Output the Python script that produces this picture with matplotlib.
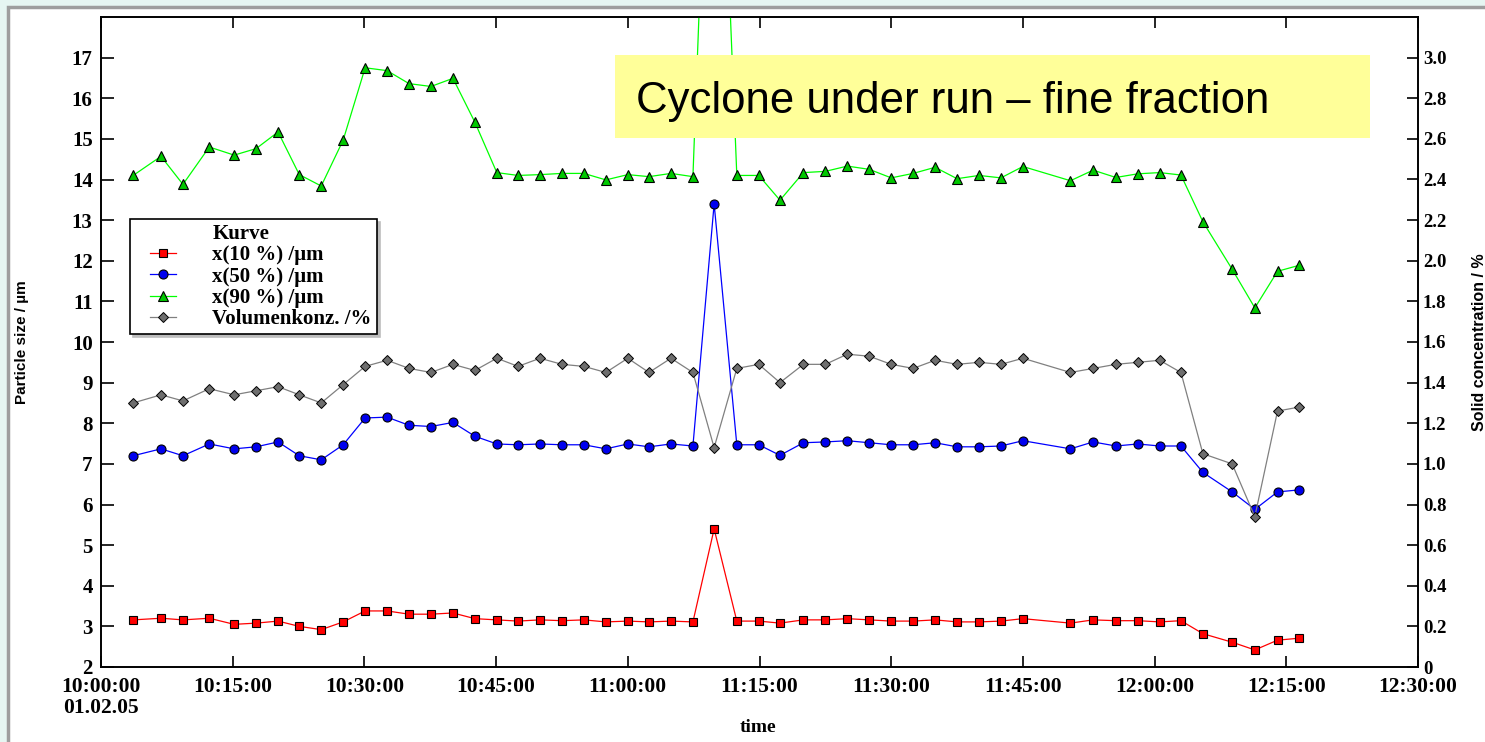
import datetime as dt
import matplotlib
matplotlib.use("Agg")
import matplotlib.pyplot as plt
import matplotlib.dates as mdates
import matplotlib.transforms as mtrans
from matplotlib.lines import Line2D
from matplotlib.patches import Rectangle
from matplotlib.ticker import FixedLocator, FuncFormatter
from matplotlib.legend_handler import HandlerLine2D
from matplotlib import font_manager

# ---------------- data ----------------
times = ["10:03:40", "10:06:50", "10:09:20", "10:12:20", "10:15:10", "10:17:40", "10:20:10",
         "10:22:35", "10:25:05", "10:27:35", "10:30:05", "10:32:35", "10:35:05", "10:37:35",
         "10:40:05", "10:42:35", "10:45:05", "10:47:30", "10:50:00", "10:52:30", "10:55:00",
         "10:57:30", "11:00:00", "11:02:25", "11:04:55", "11:07:25", "11:09:50", "11:12:25",
         "11:14:55", "11:17:20", "11:20:00", "11:22:30", "11:25:00", "11:27:30", "11:30:00",
         "11:32:30", "11:35:00", "11:37:30", "11:40:00", "11:42:30", "11:45:00", "11:50:25",
         "11:53:00", "11:55:35", "11:58:05", "12:00:35", "12:03:00", "12:05:30", "12:08:50",
         "12:11:25", "12:14:00", "12:16:30"]

x10 = [3.16, 3.20, 3.16, 3.20, 3.05, 3.08, 3.13, 3.00, 2.92, 3.11, 3.38, 3.38, 3.30,
       3.30, 3.33, 3.19, 3.16, 3.13, 3.16, 3.14, 3.16, 3.11, 3.13, 3.11, 3.13, 3.11, 5.40,
       3.13, 3.13, 3.08, 3.16, 3.16, 3.19, 3.16, 3.13, 3.13, 3.16, 3.11, 3.11, 3.13, 3.19,
       3.08, 3.16, 3.14, 3.14, 3.11, 3.14, 2.82, 2.61, 2.42, 2.66, 2.71]

x50 = [7.20, 7.37, 7.20, 7.49, 7.37, 7.42, 7.54, 7.20, 7.10, 7.47, 8.13, 8.15, 7.95,
       7.92, 8.02, 7.68, 7.49, 7.47, 7.49, 7.47, 7.47, 7.37, 7.49, 7.42, 7.49, 7.44, 13.40,
       7.47, 7.47, 7.21, 7.52, 7.54, 7.57, 7.52, 7.47, 7.47, 7.52, 7.42, 7.42, 7.44, 7.57,
       7.37, 7.54, 7.44, 7.49, 7.44, 7.44, 6.79, 6.31, 5.88, 6.31, 6.36]

x90 = [14.10, 14.57, 13.88, 14.80, 14.60, 14.76, 15.17, 14.12, 13.84, 14.97, 16.75, 16.68, 16.36,
       16.29, 16.49, 15.41, 14.17, 14.10, 14.12, 14.15, 14.15, 13.99, 14.12, 14.07, 14.15, 14.07, 28.0,
       14.10, 14.10, 13.49, 14.17, 14.20, 14.33, 14.25, 14.04, 14.15, 14.30, 14.02, 14.10, 14.04, 14.32,
       13.97, 14.23, 14.05, 14.14, 14.17, 14.11, 12.96, 11.79, 10.84, 11.74, 11.89]

volkonz = [1.30, 1.34, 1.31, 1.37, 1.34, 1.36, 1.38, 1.34, 1.30, 1.39, 1.48, 1.51, 1.47,
           1.45, 1.49, 1.46, 1.52, 1.48, 1.52, 1.49, 1.48, 1.45, 1.52, 1.45, 1.52, 1.45, 1.08,
           1.47, 1.49, 1.40, 1.49, 1.49, 1.54, 1.53, 1.49, 1.47, 1.51, 1.49, 1.50, 1.49, 1.52,
           1.45, 1.47, 1.49, 1.50, 1.51, 1.45, 1.05, 1.00, 0.74, 1.26, 1.28]

series_labels = ["x(10 %) /µm", "x(50 %) /µm", "x(90 %) /µm", "Volumenkonz. /%"]
legend_title = "Kurve"
left_ticks = list(range(2, 18))
right_ticks = [0, 0.2, 0.4, 0.6, 0.8, 1.0, 1.2, 1.4, 1.6, 1.8, 2.0, 2.2, 2.4, 2.6, 2.8, 3.0]
title_text = "Cyclone under run \u2013 fine fraction"
date_text = "01.02.05"

# ---------------- helpers ----------------
def has_font(name):
    try:
        font_manager.findfont(name, fallback_to_default=False)
        return True
    except Exception:
        return False

SERIF = "Liberation Serif"
SANS = "Liberation Sans"
NARROW = "Liberation Sans Narrow" if has_font("Liberation Sans Narrow") else None

day = dt.datetime(2005, 2, 1)
def to_dt(s):
    h, m, sec = (int(v) for v in s.split(":"))
    return day + dt.timedelta(hours=h, minutes=m, seconds=sec)

t = [to_dt(s) for s in times]

# ---------------- figure ----------------
W, H = 1485, 742
fig = plt.figure(figsize=(W / 100, H / 100), dpi=100)
fig.patch.set_facecolor("#e6f6f2")

# white panel with grey border
panel = Rectangle((8 / W, -0.2), 1.2, 1.2 - 7 / H, transform=fig.transFigure,
                  facecolor="white", edgecolor="#9e9e9e", linewidth=2.5, zorder=-10)
fig.patches.append(panel)

ax = fig.add_axes([101 / W, 1 - 667 / H, (1418 - 101) / W, 650 / H])
ax2 = ax.twinx()
ax.set_facecolor("none")

lw = 0.9
l1, = ax.plot(t, x10, color="#ff0000", lw=lw, marker="s", ms=6, mfc="#ff0000",
              mec="black", mew=0.8, label=series_labels[0], zorder=3)
l2, = ax.plot(t, x50, color="#0000ff", lw=lw, marker="o", ms=6.5, mfc="#0000ee",
              mec="black", mew=0.8, label=series_labels[1], zorder=3)
l3, = ax.plot(t, x90, color="#00ff00", lw=lw, marker="^", ms=7.5, mfc="#00c800",
              mec="black", mew=0.8, label=series_labels[2], zorder=3)
l4, = ax2.plot(t, volkonz, color="#808080", lw=lw, marker="D", ms=5.2, mfc="#6e6e6e",
               mec="black", mew=0.7, label=series_labels[3], zorder=3)

ax.set_ylim(2, 18)
ax2.set_ylim(0, 3.2)
ax.set_xlim(to_dt("10:00:00"), to_dt("12:30:00"))

# x ticks
ax.xaxis.set_major_locator(mdates.MinuteLocator(byminute=[0, 15, 30, 45]))
ax.xaxis.set_major_formatter(mdates.DateFormatter("%H:%M:%S"))
ax.tick_params(axis="x", direction="in", length=8, width=1.2, top=True, pad=7.5,
               labelsize=15.5, colors="black")
for lab in ax.get_xticklabels():
    lab.set_fontfamily(SERIF)
    lab.set_fontweight("bold")

# left y ticks
ax.yaxis.set_major_locator(FixedLocator(left_ticks))
ax.tick_params(axis="y", direction="in", length=9.5, width=1.2, pad=6, labelsize=15)
for lab in ax.get_yticklabels():
    lab.set_fontfamily(SERIF)
    lab.set_fontweight("bold")

# right y ticks
ax2.yaxis.set_major_locator(FixedLocator(right_ticks))
ax2.yaxis.set_major_formatter(FuncFormatter(lambda v, p: "0" if abs(v) < 1e-9 else f"{v:.1f}"))
ax2.tick_params(axis="y", direction="in", length=8, width=1.2, pad=3.5, labelsize=13.5)
for lab in ax2.get_yticklabels():
    lab.set_fontfamily(SERIF)
    lab.set_fontweight("bold")

for a in (ax, ax2):
    for sp in a.spines.values():
        sp.set_linewidth(1.2)
        sp.set_color("black")

# axis labels
lab_family = NARROW if NARROW else SANS
lab_size = 13 if NARROW else 11
ax.set_ylabel("Particle size / µm", fontfamily=lab_family, fontweight="bold", fontsize=lab_size)
ax.yaxis.set_label_coords(-0.0547, 0.5)
ax2.set_ylabel("Solid concentration / %", fontfamily=lab_family, fontweight="bold",
               fontsize=lab_size + 0.5, rotation=90)
ax2.yaxis.set_label_coords(1.041, 0.5)
ax.set_xlabel("time", fontfamily=SERIF, fontweight="bold", fontsize=14)
ax.xaxis.set_label_coords(0.499, -0.08)

# date under first tick label
trans = mtrans.blended_transform_factory(ax.transData, ax.transAxes)
ax.text(mdates.date2num(to_dt("10:00:00")), -0.063, date_text, transform=trans,
        ha="center", va="center", fontfamily=SERIF, fontweight="bold", fontsize=15.5)

# legend
fs_leg = 15
blank = Line2D([], [], linestyle="none", marker="none")
hmap = {l: HandlerLine2D(xpad=0.72) for l in (l1, l2, l3, l4)}
leg = ax2.legend([blank, l1, l2, l3, l4], [legend_title] + series_labels,
                 loc="upper left", bbox_to_anchor=(130 / W, 1 - 219 / H),
                 bbox_transform=fig.transFigure, borderaxespad=0,
                 prop={"family": SERIF, "weight": "bold", "size": fs_leg},
                 fancybox=False, frameon=True, framealpha=1, edgecolor="black",
                 handlelength=1.95, handletextpad=1.75, borderpad=0.25, labelspacing=0.06,
                 handler_map=hmap, shadow={"color": "#bdbdbd", "alpha": 1})
leg.get_frame().set_linewidth(1.2)
leg.set_zorder(10)

# title box
fig.patches.append(Rectangle((615 / W, 1 - 138 / H), 755 / W, 83 / H,
                             transform=fig.transFigure, facecolor="#ffff99",
                             edgecolor="none", zorder=5))
if NARROW:
    fig.text(636 / W, 1 - 102 / H, title_text, fontfamily=NARROW, fontsize=38,
             ha="left", va="center", zorder=6)
else:
    fig.text(636 / W, 1 - 102 / H, title_text, fontfamily=SANS, fontsize=31.5,
             ha="left", va="center", zorder=6)

fig.savefig("out.png", dpi=100, facecolor=fig.get_facecolor())
